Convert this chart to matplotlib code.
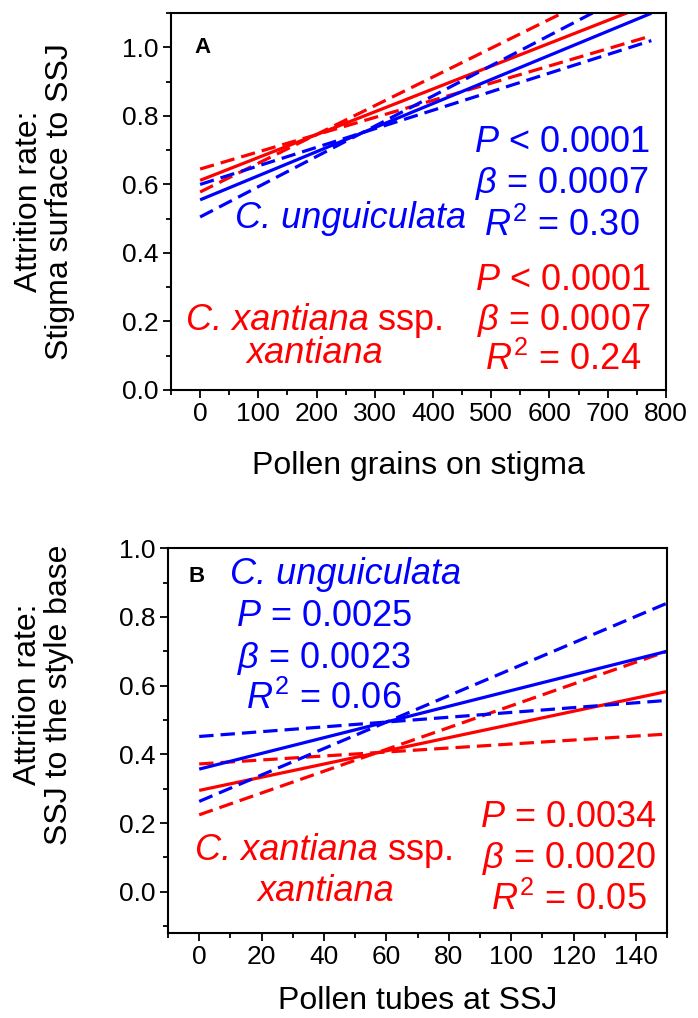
import matplotlib
matplotlib.use("Agg")
import matplotlib.pyplot as plt
from matplotlib.ticker import MultipleLocator, FormatStrFormatter
from matplotlib.transforms import offset_copy

plt.rcParams['font.family'] = ['Liberation Sans', 'DejaVu Sans']
plt.rcParams['mathtext.fontset'] = 'custom'
plt.rcParams['mathtext.rm'] = 'Liberation Sans'
plt.rcParams['mathtext.it'] = 'Liberation Sans:italic'

BLUE = '#0000ff'
RED = '#ff0000'

# panel A: fitted lines (end points)
a_x = [0, 775]
a_blue_fit = [0.555, 1.10]
a_blue_lo = [0.505, 1.19]
a_blue_hi = [0.600, 1.02]
a_red_fit = [0.612, 1.129]
a_red_lo = [0.578, 1.229]
a_red_hi = [0.645, 1.034]

# panel B
b_x = [0, 150]
b_blue_fit = [0.357, 0.700]
b_blue_lo = [0.263, 0.840]
b_blue_hi = [0.452, 0.557]
b_red_fit = [0.295, 0.583]
b_red_lo = [0.224, 0.700]
b_red_hi = [0.372, 0.459]

a_blue_stats = ["$P$ < 0.0001", r"$\beta$ = 0.0007", "$R^2$ = 0.30"]
a_red_stats = ["$P$ < 0.0001", r"$\beta$ = 0.0007", "$R^2$ = 0.24"]
b_blue_stats = ["$P$ = 0.0025", r"$\beta$ = 0.0023", "$R^2$ = 0.06"]
b_red_stats = ["$P$ = 0.0034", r"$\beta$ = 0.0020", "$R^2$ = 0.05"]

fig = plt.figure(figsize=(6.98, 10.18), dpi=100)
axA = fig.add_axes([0.245, 0.617, 0.709, 0.370])
axB = fig.add_axes([0.2407, 0.0835, 0.715, 0.378])

lw = 2.3
dash = (0, (4.5, 2.2))


def draw_lines(ax, x, fit, lo, hi, color):
    ax.plot(x, fit, color=color, lw=lw, solid_capstyle='butt')
    ax.plot(x, lo, color=color, lw=lw, linestyle=dash)
    ax.plot(x, hi, color=color, lw=lw, linestyle=dash)


draw_lines(axA, a_x, a_red_fit, a_red_lo, a_red_hi, RED)
draw_lines(axA, a_x, a_blue_fit, a_blue_lo, a_blue_hi, BLUE)
draw_lines(axB, b_x, b_red_fit, b_red_lo, b_red_hi, RED)
draw_lines(axB, b_x, b_blue_fit, b_blue_lo, b_blue_hi, BLUE)

for ax in (axA, axB):
    for sp in ax.spines.values():
        sp.set_linewidth(1.5)
    ax.tick_params(which='major', direction='out', length=6, width=1.3,
                   labelsize=19, pad=3)
    ax.tick_params(which='minor', direction='out', length=3.5, width=1.3)
    ax.yaxis.set_major_formatter(FormatStrFormatter('%.1f'))
    ax.yaxis.set_major_locator(MultipleLocator(0.2))
    ax.yaxis.set_minor_locator(MultipleLocator(0.1))

axA.set_xlim(-50, 800)
axA.set_ylim(0, 1.1)
axA.xaxis.set_major_locator(MultipleLocator(100))
axA.xaxis.set_minor_locator(MultipleLocator(50))

axB.set_xlim(-10, 150)
axB.set_ylim(-0.12, 1.0)
axB.xaxis.set_major_locator(MultipleLocator(20))
axB.xaxis.set_minor_locator(MultipleLocator(10))

# axis labels
axA.set_xlabel("Pollen grains on stigma", fontsize=23, labelpad=18)
axA.set_ylabel("Attrition rate:\nStigma surface to SSJ", fontsize=23,
               linespacing=1.05, va='center')
axA.yaxis.set_label_coords(-0.255, 0.5)
axB.set_xlabel("Pollen tubes at SSJ", fontsize=23, labelpad=12)
axB.set_ylabel("Attrition rate:\nSSJ to the style base", fontsize=23,
               linespacing=1.05, va='center')
axB.yaxis.set_label_coords(-0.25, 0.62)

# panel letters
axA.text(-10, 1.0, "A", fontsize=16, fontweight='bold', ha='left', va='center')
axB.text(-3.5, 0.918, "B", fontsize=16, fontweight='bold', ha='left', va='center')

fs = 26


def stack(ax, x, ys, lines, color):
    for y, s in zip(ys, lines):
        ax.text(x, y, s, color=color, fontsize=fs, ha='center', va='center')


def species_ssp(ax, x_split, y, color):
    # italic genus+species, then upright "ssp." one space to the right
    ax.text(x_split, y, "C. xantiana", color=color, fontsize=fs,
            fontstyle='italic', ha='right', va='center')
    tr = offset_copy(ax.transData, fig=fig, x=10, y=0, units='dots')
    ax.text(x_split, y, "ssp.", color=color, fontsize=fs,
            ha='left', va='center', transform=tr)


# panel A annotations
stack(axA, 621, [0.723, 0.602, 0.48], a_blue_stats, BLUE)
stack(axA, 624, [0.32, 0.204, 0.087], a_red_stats, RED)
axA.text(258, 0.50, "C. unguiculata", color=BLUE, fontsize=fs,
         fontstyle='italic', ha='center', va='center')
species_ssp(axA, 289, 0.204, RED)
axA.text(197, 0.107, "xantiana", color=RED, fontsize=fs,
         fontstyle='italic', ha='center', va='center')

# panel B annotations
axB.text(47, 0.923, "C. unguiculata", color=BLUE, fontsize=fs,
         fontstyle='italic', ha='center', va='center')
stack(axB, 40, [0.80, 0.68, 0.56], b_blue_stats, BLUE)
stack(axB, 118.4, [0.217, 0.097, -0.024], b_red_stats, RED)
species_ssp(axB, 57.4, 0.12, RED)
axB.text(40.5, 0.0, "xantiana", color=RED, fontsize=fs,
         fontstyle='italic', ha='center', va='center')

fig.savefig("out.png", dpi=100)
